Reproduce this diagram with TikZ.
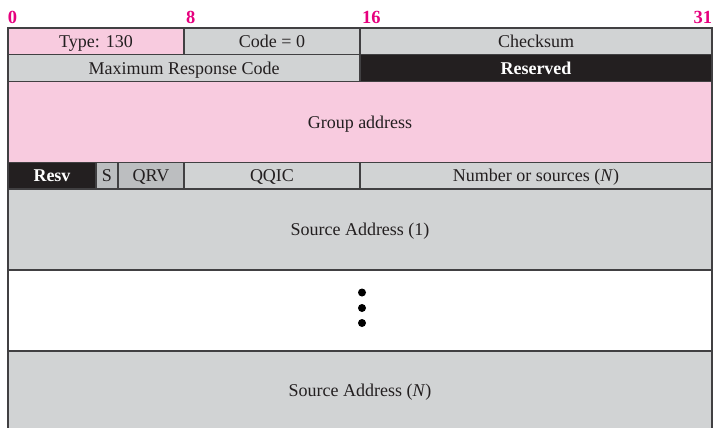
\documentclass[tikz,border=0pt]{standalone}
\usepackage{fontspec}
\setmainfont{Liberation Serif}
\definecolor{pk}{RGB}{248,203,223}
\definecolor{gy}{RGB}{209,211,212}
\definecolor{dg}{RGB}{188,190,192}
\definecolor{bk}{RGB}{35,31,32}
\definecolor{ln}{RGB}{65,64,66}
\definecolor{mg}{RGB}{230,0,126}
\begin{document}
\begin{tikzpicture}[x=1pt,y=-1pt,
  field/.style={draw=ln, line width=1.4pt, inner sep=0pt, outer sep=0pt, anchor=north west,
    font=\fontsize{18}{20}\selectfont, text=bk, text height=12.2pt, text depth=0pt},
  darkfield/.style={field, fill=bk, text=white, font=\fontsize{18}{20}\selectfont\bfseries},
  bitlbl/.style={font=\fontsize{18.5}{20}\selectfont\bfseries, text=mg, inner sep=0pt, outer sep=0pt},
  dot/.style={circle, fill=black, inner sep=0pt, minimum size=8pt}]
\useasboundingbox (0,0) rectangle (715,428);
\clip (0,0) rectangle (715,428);
% bit numbers
\node[bitlbl, anchor=base west] (b0) at (8,24) {0};
\node[bitlbl, anchor=base west] (b8) at (186,24) {8};
\node[bitlbl, anchor=base west] (b16) at (362,24) {16};
\node[bitlbl, anchor=base east] (b31) at (712,24) {31};
% row 1
\node[field, fill=pk, minimum width=176, minimum height=26.5] (type) at (8,28) {Type: 130};
\node[field, fill=gy, minimum width=176, minimum height=26.5] (code) at (184,28) {Code = 0};
\node[field, fill=gy, minimum width=352, minimum height=26.5] (csum) at (360,28) {Checksum};
% row 2
\node[field, fill=gy, minimum width=352, minimum height=27] (mrc) at (8,54.5) {Maximum Response Code};
\node[darkfield, minimum width=352, minimum height=27] (res) at (360,54.5) {Reserved};
% row 3
\node[field, fill=pk, minimum width=704, minimum height=81] (grp) at (8,81.5) {Group address};
% row 4
\node[darkfield, minimum width=88, minimum height=26.5] (resv) at (8,162.5) {Resv};
\node[field, fill=dg, minimum width=22, minimum height=26.5] (s) at (96,162.5) {S};
\node[field, fill=dg, minimum width=66, minimum height=26.5] (qrv) at (118,162.5) {QRV};
\node[field, fill=gy, minimum width=176, minimum height=26.5] (qqic) at (184,162.5) {QQIC};
\node[field, fill=gy, minimum width=352, minimum height=26.5] (nsrc) at (360,162.5) {Number or sources (\textit{N})};
% source addresses
\node[field, fill=gy, minimum width=704, minimum height=81] (sa1) at (8,189) {Source Address (1)};
\node[field, fill=white, minimum width=704, minimum height=81] (gap) at (8,270) {};
\node[field, fill=gy, minimum width=704, minimum height=78] (san) at (8,351) {Source Address (\textit{N})};
% dots
\node[dot] (d1) at (362,292.5) {};
\node[dot] (d2) at (362,308) {};
\node[dot] (d3) at (362,323) {};
\end{tikzpicture}
\end{document}
